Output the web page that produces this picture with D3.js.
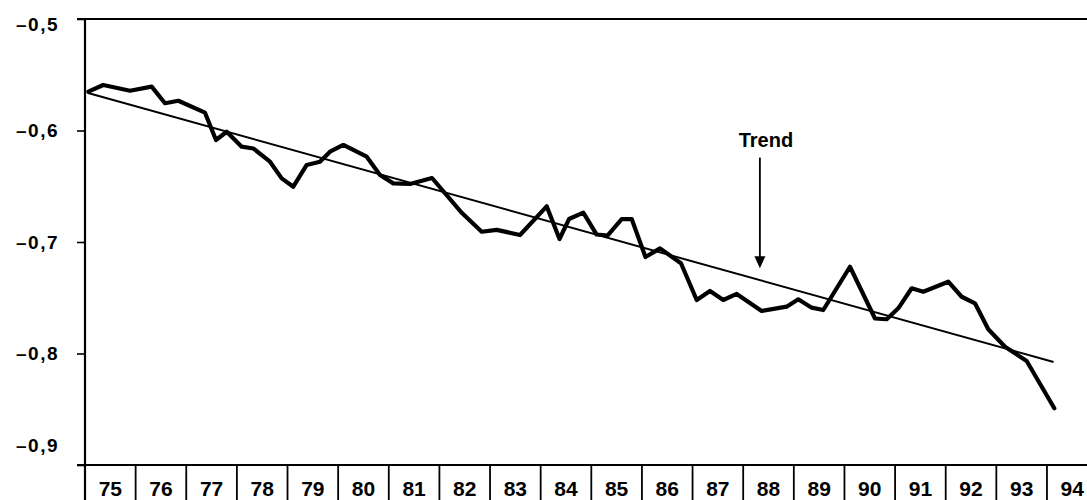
<!DOCTYPE html>
<html>
<head>
<meta charset="utf-8">
<script src="https://cdn.jsdelivr.net/npm/d3@7"></script>
<style>
html,body{margin:0;padding:0;background:#fff;}
svg{display:block;}
</style>
</head>
<body>
<svg id="chart" width="1087" height="500"></svg>
<script>
// Years shown on the category axis
const yearLabels = ["75","76","77","78","79","80","81","82","83","84","85","86","87","88","89","90","91","92","93","94"];
// Y tick values and labels
const yTicks = [-0.5, -0.6, -0.7, -0.8, -0.9];
const yTickLabels = ["\u20130,5", "\u20130,6", "\u20130,7", "\u20130,8", "\u20130,9"];
// Series: time (decimal year, 75 = 1975) and value
const seriesTime = [75.065,75.361,75.889,76.317,76.580,76.843,77.370,77.587,77.799,78.095,78.324,78.654,78.885,79.114,79.379,79.641,79.839,80.102,80.564,80.826,81.089,81.419,81.854,82.446,82.835,83.132,83.592,84.119,84.372,84.560,84.842,85.106,85.320,85.600,85.798,86.070,86.357,86.771,87.082,87.344,87.607,87.872,88.365,88.859,89.088,89.353,89.582,90.109,90.603,90.834,91.063,91.328,91.557,92.051,92.315,92.578,92.841,93.171,93.599,94.145];
const seriesValue = [-0.5652,-0.5592,-0.5643,-0.5607,-0.5756,-0.5733,-0.5840,-0.6085,-0.6011,-0.6145,-0.6161,-0.6280,-0.6429,-0.6504,-0.6309,-0.6280,-0.6190,-0.6130,-0.6235,-0.6399,-0.6474,-0.6480,-0.6426,-0.6740,-0.6908,-0.6891,-0.6937,-0.6680,-0.6973,-0.6794,-0.6737,-0.6933,-0.6942,-0.6794,-0.6794,-0.7135,-0.7057,-0.7191,-0.7520,-0.7439,-0.7520,-0.7466,-0.7619,-0.7580,-0.7514,-0.7589,-0.7610,-0.7222,-0.7686,-0.7693,-0.7595,-0.7415,-0.7446,-0.7356,-0.7491,-0.7550,-0.7783,-0.7939,-0.8067,-0.8491];
// Trend line endpoints
const trendTime = [75.06, 94.13];
const trendValue = [-0.5664, -0.8076];
// Annotation
const annotationText = "Trend";
const annotationTime = 88.33;
const annotationValueTop = -0.6243;
const annotationValueTip = -0.7235;

(function () {
const svg = d3.select("#chart");
const mLeft = 85, mTop = 19, mBottom = 465, yearW = 50.63;
const x = d3.scaleLinear().domain([75, 95]).range([mLeft, mLeft + 20 * yearW]);
const y = d3.scaleLinear().domain([-0.9, -0.5]).range([mBottom, mTop]);

const font = "Arial, 'Liberation Sans', sans-serif";

// frame: top border and bottom axis
svg.append("line").attr("x1", 77).attr("x2", 1087).attr("y1", y(-0.5)).attr("y2", y(-0.5))
  .attr("stroke", "#000").attr("stroke-width", 2);
svg.append("line").attr("x1", 77).attr("x2", 1087).attr("y1", y(-0.9)).attr("y2", y(-0.9))
  .attr("stroke", "#000").attr("stroke-width", 2);

// Y axis via d3.axisLeft
const yAxis = d3.axisLeft(y).tickValues(yTicks).tickSize(8).tickSizeOuter(0).tickFormat("");
const gy = svg.append("g").attr("transform", `translate(${mLeft},0)`).call(yAxis);
gy.select(".domain").attr("stroke", "#000").attr("stroke-width", 2.2).attr("d", `M0,${mTop}V500`);
gy.selectAll(".tick line").attr("stroke", "#000").attr("stroke-width", 1.6);

// Y labels
const yOff = {"-0.5": 5, "-0.9": -20};
svg.selectAll("text.ylab").data(yTicks).enter().append("text")
  .attr("class", "ylab")
  .attr("x", 59)
  .attr("y", d => y(d) + (yOff[String(d)] || 0))
  .attr("dy", "0.36em")
  .attr("text-anchor", "end")
  .attr("letter-spacing", 1.5)
  .attr("font-family", font).attr("font-weight", "bold").attr("font-size", 19)
  .text((d, i) => yTickLabels[i]);

// Category separators and year labels
const bounds = d3.range(75, 96);
svg.selectAll("line.sep").data(bounds).enter().append("line")
  .attr("class", "sep")
  .attr("x1", d => x(d)).attr("x2", d => x(d))
  .attr("y1", mBottom).attr("y2", 500)
  .attr("stroke", "#000").attr("stroke-width", 1.8);
svg.selectAll("text.xlab").data(yearLabels).enter().append("text")
  .attr("class", "xlab")
  .attr("x", (d, i) => x(75 + i + 0.5))
  .attr("y", 488)
  .attr("dy", "0.36em")
  .attr("text-anchor", "middle")
  .attr("font-family", font).attr("font-size", 21).attr("font-weight", "bold")
  .text(d => d);

// Trend line
const trendData = trendTime.map((t, i) => [t, trendValue[i]]);
svg.append("path").datum(trendData)
  .attr("fill", "none").attr("stroke", "#000").attr("stroke-width", 2)
  .attr("d", d3.line().x(d => x(d[0])).y(d => y(d[1])));

// Series line
const data = seriesTime.map((t, i) => [t, seriesValue[i]]);
svg.append("path").datum(data)
  .attr("fill", "none").attr("stroke", "#000").attr("stroke-width", 4.2)
  .attr("stroke-linejoin", "round").attr("stroke-linecap", "round")
  .attr("d", d3.line().x(d => x(d[0])).y(d => y(d[1])));

// Annotation
const ax = x(annotationTime);
svg.append("text").attr("x", ax + 6).attr("y", y(annotationValueTop) - 11)
  .attr("text-anchor", "middle")
  .attr("font-family", font).attr("font-weight", "bold").attr("font-size", 20)
  .text(annotationText);
svg.append("line").attr("x1", ax).attr("x2", ax)
  .attr("y1", y(annotationValueTop)).attr("y2", y(annotationValueTip) - 10)
  .attr("stroke", "#000").attr("stroke-width", 1.8);
svg.append("path")
  .attr("d", `M${ax - 5.5},${y(annotationValueTip) - 12} L${ax + 5.5},${y(annotationValueTip) - 12} L${ax},${y(annotationValueTip)} Z`)
  .attr("fill", "#000");
})();
</script>
</body>
</html>
